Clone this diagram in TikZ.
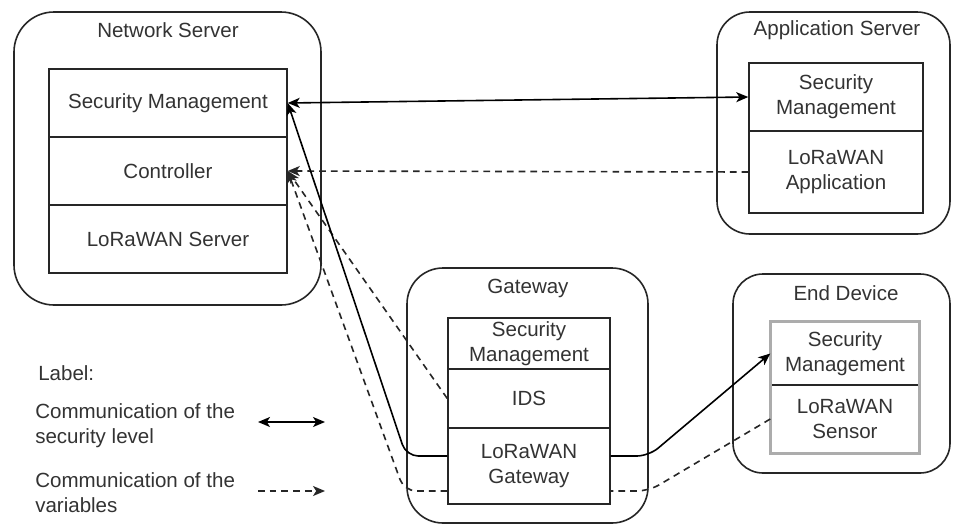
\documentclass[tikz,border=0pt]{standalone}
\usepackage{fontspec}
\setmainfont{Liberation Sans}
\usetikzlibrary{arrows.meta}
\begin{document}
\begin{tikzpicture}[x=0.75pt,y=-0.75pt,
  every node/.style={font=\fontsize{15.4pt}{18.75pt}\selectfont, text=black!80},
  outerbox/.style={draw=black!85, line width=1.2pt, fill=white, inner sep=0pt},
  cell/.style={draw=black!85, line width=1.1pt, fill=white, align=center, inner sep=0pt},
  title/.style={inner sep=0pt},
  legendtext/.style={anchor=west, align=left, inner sep=0pt},
  tip/.style={Stealth[length=9pt,width=7.5pt,inset=2.4pt]},
  conn/.style={draw=black, line width=1.2pt},
  dconn/.style={draw=black!85, line width=1.2pt, dash pattern=on 5pt off 3.8pt},
]
\useasboundingbox (0,0) rectangle (953,525);
\fill[white] (0,0) rectangle (953,525);

% outer containers
\node[outerbox, rounded corners=30pt, minimum width=230.25pt, minimum height=219.75pt] (ns) at (167.5,158.5) {};
\node[outerbox, rounded corners=24.75pt, minimum width=174.75pt, minimum height=166.5pt] (as) at (833.5,123) {};
\node[outerbox, rounded corners=27pt, minimum width=180.75pt, minimum height=191.25pt] (gw) at (527.5,395.5) {};
\node[outerbox, rounded corners=22.5pt, minimum width=162.75pt, minimum height=149.25pt] (ed) at (841.5,373.5) {};

% titles
\node[title] (nst) at (168,30) {Network Server};
\node[title] (ast) at (837,30) {Application Server};
\node[title] (gwt) at (528,288) {Gateway};
\node[title] (edt) at (846,293) {End Device};

% Network Server cells
\node[cell, minimum width=178.5pt, minimum height=51pt] (nssec) at (168,103) {Security Management};
\node[cell, minimum width=178.5pt, minimum height=51pt] (nsctl) at (168,171) {Controller};
\node[cell, minimum width=178.5pt, minimum height=51pt] (nslor) at (168,239) {LoRaWAN Server};

% Application Server cells
\node[cell, minimum width=130.5pt, minimum height=51pt] (assec) at (836,97) {Security\\Management};
\node[cell, minimum width=130.5pt, minimum height=61.5pt] (asapp) at (836,172) {LoRaWAN\\Application};

% Gateway cells
\node[cell, minimum width=121.5pt, minimum height=38.25pt] (gwsec) at (529,343.5) {Security\\Management};
\node[cell, minimum width=121.5pt, minimum height=44.25pt] (gwids) at (529,398.5) {IDS};
\node[cell, minimum width=121.5pt, minimum height=57pt] (gwlor) at (529,466) {LoRaWAN\\Gateway};

% End Device cells
\node[cell, minimum width=111pt, minimum height=47.25pt] (edsec) at (845,353.5) {Security\\Management};
\node[cell, minimum width=111pt, minimum height=51pt] (edsen) at (845,419) {LoRaWAN\\Sensor};
\draw[gray!65, line width=2pt] (edsec.north west) rectangle (edsen.south east);

% connector helper points
\coordinate (gwlA) at ([yshift=7.5pt]gwlor.west);
\coordinate (gwlB) at ([yshift=7.5pt]gwlor.east);
\coordinate (gwlC) at ([yshift=-18.75pt]gwlor.west);
\coordinate (gwlD) at ([yshift=-18.75pt]gwlor.east);

% connectors
\draw[conn, {Stealth[length=9pt,width=7.5pt,inset=2.4pt]}-{Stealth[length=9pt,width=7.5pt,inset=2.4pt]}] (nssec.east) -- (assec.west);
\draw[dconn, -{Stealth[length=9pt,width=7.5pt,inset=2.4pt]}] (asapp.west) -- (nsctl.east);
\draw[dconn, -{Stealth[length=9pt,width=7.5pt,inset=2.4pt]}] (gwids.west) -- (nsctl.east);
\draw[conn, rounded corners=9pt, -{Stealth[length=9pt,width=7.5pt,inset=2.4pt]}] (gwlA) -- (gwlA -| gw.west) -- (nssec.east);
\draw[conn, rounded corners=9pt, -{Stealth[length=9pt,width=7.5pt,inset=2.4pt]}] (gwlB) -- (gwlB -| gw.east) -- (edsec.west);
\draw[dconn, rounded corners=9pt] (edsen.west) -- (gwlD -| gw.east) -- (gwlD);
\draw[dconn, rounded corners=9pt, -{Stealth[length=9pt,width=7.5pt,inset=2.4pt]}] (gwlC) -- ([xshift=-1.5pt]gwlC -| gw.west) -- (nsctl.east);

% legend
\node[legendtext] (lab) at (38,373) {Label:};
\node[legendtext] (leg1) at (35,426) {Communication of the\\security level};
\node[legendtext] (leg2) at (35,492.5) {Communication of the\\variables};
\coordinate (l1a) at (258,422);
\coordinate (l1b) at (325,422);
\coordinate (l2a) at (258,491);
\coordinate (l2b) at (325,491);
\draw[conn, {Stealth[length=9pt,width=7.5pt,inset=2.4pt]}-{Stealth[length=9pt,width=7.5pt,inset=2.4pt]}] (l1a) -- (l1b);
\draw[dconn, -{Stealth[length=9pt,width=7.5pt,inset=2.4pt]}] (l2a) -- (l2b);
\end{tikzpicture}
\end{document}
